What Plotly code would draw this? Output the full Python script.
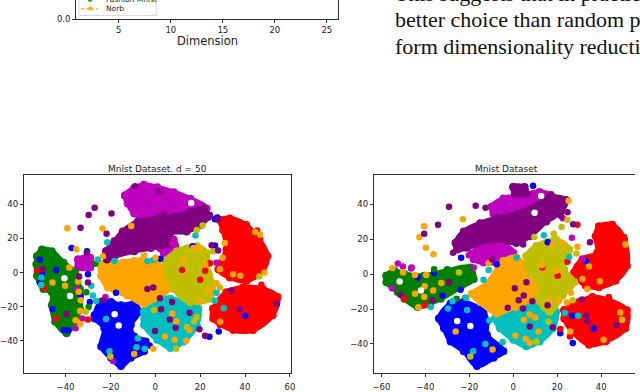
import plotly.graph_objects as go

BLUE, GREEN, RED, CYAN = "#0000ff", "#008000", "#ff0000", "#00bfbf"
MAGENTA, OLIVE, ORANGE, PURPLE = "#bf00bf", "#bfbf00", "#ffa500", "#800080"
WHITE = "#ffffff"

# ---------- top strip: foot of the preceding figure ----------
top_ticks = [5, 10, 15, 20, 25]
top_xlabel = "Dimension"
legend_names = ["Fashion Mnist", "Norb"]
body_lines = ["This suggests that in practice PCA is a",
              "better choice than random projections to per",
              "form dimensionality reduction for the"]

# ---------- left panel: cluster outlines ----------
L_title = "Mnist Dataset. d = 50"
L_ticks_x = [-40, -20, 0, 20, 40, 60]
L_ticks_y = [-40, -20, 0, 20, 40]
L_magenta = [(-13.5,45.2),(-9.4,49.6),(-5,51.5),(0.9,50),(8.2,47.1),(15.6,43.3),(22.9,37.5),(20,33.7),(8.2,30.8),(-3.5,30.8),(-9.4,34.6),(-12.3,40.4)]
L_magenta2 = [(2.3,14.4),(8.2,19.2),(9,15.4),(3.8,11.5)]
L_magenta3 = [(-34.4,7.7),(-29,8.7),(-29,3),(-34.4,3)]
L_purple = [(-21.9,12.5),(-18.2,18.3),(-14.5,24),(-7.9,29.8),(0.9,31.7),(8.2,32.7),(15.6,35.6),(21.5,37.5),(23.6,32.7),(19.9,27.9),(14,24),(6.7,23.1),(5.3,16.4),(-2,14.4),(-9.4,12.5),(-18.2,9.6),(-21.6,7.7)]
L_green = [(-52.7,9.6),(-50.5,13.5),(-46.1,12.5),(-40.9,5.8),(-35.8,0),(-33.6,-9.6),(-33.6,-21.2),(-36.6,-30.8),(-39.5,-35.6),(-44.6,-28.8),(-46.1,-19.2),(-46.1,-11.5),(-49.8,-9.6),(-52.7,-1.9),(-53,4.8)]
L_orange = [(-24.1,4.8),(-18.2,5.8),(-9.4,6.7),(0.9,4.8),(5.3,0),(6.8,-8.7),(2.3,-13.5),(-5,-18.3),(-12.3,-13.5),(-21.1,-8.7),(-24.1,-1.9)]
L_olive = [(4.6,6.7),(9.7,12.5),(18.5,15.4),(22.9,11.5),(23.6,0),(25.8,-6.7),(24.4,-15.4),(15.6,-17.3),(8.2,-9.6),(5.3,0)]
L_cyan = [(-5,-23),(-0.6,-14.4),(6.8,-15.4),(14,-17.3),(19.2,-21.2),(18.5,-30.8),(12.6,-40.4),(6.8,-44.2),(0.9,-39.4),(-5,-30.8)]
L_blue = [(-27,-25),(-24.1,-17.3),(-19.7,-17.3),(-15.3,-19.2),(-9.4,-18.3),(-7.2,-23),(-10.9,-30.8),(-9.4,-37.5),(-4.3,-40.4),(-5,-46.2),(-10.9,-50),(-15.3,-54.8),(-19.7,-50),(-24.1,-43.3),(-22.7,-32.7),(-27,-26.9)]
L_red1 = [(28.8,30.8),(33.2,31.7),(40.5,27.9),(46.4,19.2),(50,9.6),(47.8,1),(40.5,-4.8),(33.2,-2.9),(28.1,1.9),(31.7,13.5),(30.2,25)]
L_red2 = [(25.8,-21.2),(31.7,-11.5),(39.1,-8.7),(47.9,-9.6),(54.5,-14.4),(52.3,-25),(43.5,-33.7),(34.7,-33.7),(25.8,-26.9)]

# ---------- left panel: stray points ----------
L_pts_blue = [(-51.5,7.7),(-50.5,-1),(-51.5,-5.8),(-44.2,1.5),(-45.8,-21.5),(-40.8,-33.7),(-38.8,-34),(-33.2,-13.8),(-29.2,-17.3),(-17.5,-11.9),(-2.5,-42.7),(40.1,-25.4),(28.3,-34.6),(24.1,-37.7),(26.6,15.8),(16.7,15.4),(26.6,31.3),(27.6,32.3),(2.3,8.1),(-30,-1),(-37.3,14.4),(-30.4,12.5)]
L_pts_red = [(-52.6,1.2),(-49.3,-9.2),(-44.3,-27.1),(-30,-27.5),(11.9,1.5),(20,-4.2),(24.4,5.4),(47.3,-7.1),(28.8,-30.8),(22.2,1),(45.4,24.6)]
L_pts_orange = [(-39.2,26),(-23.5,25.8),(-35.2,13.7),(-10.7,27.3),(-38.3,2.9),(-45.8,-5.8),(-40.2,-7.7),(-34.4,-5.2),(-34.1,-11.2),(-33.2,-16.3),(-33.5,-22.5),(-35.5,-27.9),(-33.5,-30.2),(-4.3,-18.3),(7.6,-24),(9.4,-28.7),(15.3,-33.7),(4.3,-37.5),(8.7,-39.4),(13.8,-40),(-9.4,-47.7),(-0.9,-44.6),(28.9,-28.8),(28.8,1.9),(34.7,-1),(37.9,-1.9),(48.6,0),(44.5,23.7),(46.7,22.1),(31,17.3),(30,8.7),(27.3,-6.3),(23.6,-10.6),(20,-16.7),(17,14.4),(20,14.4),(12.6,6.7),(22.2,4.8),(-6.5,7.3),(-5,10),(0.1,8.7),(-23.3,9.6)]
L_pts_cyan = [(-25.6,7.7),(-18.2,6.7),(-50.8,-2.9),(-50.8,-7.3),(-28.5,-7.7),(-27.8,-13.5),(-26.3,-16.7),(-22,-27.3),(-7.8,-38.5),(-8.4,-43.8),(-4.7,-44.6),(-20.4,-46.2),(26.6,-16.5),(30.5,-21),(27.3,-11.9),(17.9,21.7),(-3.5,6.7),(-0.9,7.3),(-21.4,17.7)]
L_pts_olive = [(18.5,25),(21.1,27.5),(17.3,-28.5),(18.5,-26),(14.1,-31.9),(9.3,-44.6),(-20,-49.2),(-31,-23),(-0.6,-22.1),(25.8,12.5),(24.4,-1.9),(46.4,-2.3),(28.8,-8.7)]
L_pts_magenta = [(-18.9,-51.9),(-35.1,-9.6),(7.5,16.9),(-32.5,-26.9),(-22.2,-14.4),(27.3,5.8),(-35.5,-32.7)]
L_pts_green = [(-26.7,5.2),(-30.7,-11.5),(-29.7,-20.2)]
L_pts_purple = [(-9,50.6),(1.6,47.7),(-27,37.9),(-29.7,33.7),(-19.5,34.6),(-33.3,26.3),(-21.7,22.7),(3.8,34.6),(-30.5,11.5),(-33.9,-2.3),(-30,-5.8),(-3.5,-9.6),(-0.9,-8.7),(2.1,-15),(2.6,-21.5),(6.5,-27.5),(7.5,-17.3),(9.1,-32.3),(-0.1,-34.2),(15.3,-23.5),(19.7,-33.3),(22.2,-37.1),(37.6,-21.5),(33.9,-10.6),(54.2,-18.3),(24.4,33.7),(28,31.3),(25.1,16),(28,12.9),(-39.5,-24.4),(-50.2,1.9),(-23.3,-16.3)]
L_pts_white = [(-40.5,-3.3),(-38,-13.8),(-18.1,-24.4),(-16.3,-31),(16,40.8)]

# ---------- right panel: cluster outlines ----------
R_title = "Mnist Dataset"
R_ticks_x = [-60, -40, -20, 0, 20, 40]
R_ticks_y = [-40, -20, 0, 20, 40]
R_magenta = [(-9.7,38.5),(-4.5,43.2),(4.5,45.1),(12,47),(18,44),(15,36.6),(4.5,31.9),(-4.5,32.9),(-9,34.7)]
R_magenta2 = [(-18.7,11.3),(-12,17.8),(-4.5,16.9),(0,12.2),(-3,7.5),(-13.5,6.6),(-18,8.5)]
R_purple = [(-26.2,17.8),(-22.5,24.4),(-15,29.1),(-7.5,31.9),(1.5,34.7),(10.5,39.4),(16.5,44),(24,42.3),(21.7,35.7),(15,30),(7.5,21.6),(1.5,17.8),(-9,19.7),(-21,15),(-25.5,14.1)]
R_purple2 = [(0,49.8),(5.2,49.8),(6,46),(0.7,46)]
R_green = [(-57.7,-0.9),(-54,1.9),(-49.5,0),(-40.5,-0.9),(-30,1.9),(-19.5,3.8),(-18,-2.8),(-24,-7.5),(-33,-14.1),(-43.5,-18.8),(-49.5,-14.1),(-52.5,-10.3),(-57.7,-4.7)]
R_orange = [(-18.7,-11.3),(-12,-5.6),(-4.5,7.5),(1.5,9.4),(7.5,-0.9),(12.7,-8.5),(13.5,-14.1),(4.5,-16),(-7.5,-22.5),(-15,-16)]
R_olive = [(6,10.3),(10.5,16),(19.5,19.7),(25.5,14.1),(23.2,2.8),(27.7,-4.7),(22.5,-12.2),(16.5,-21.6),(11.2,-14.1),(13.5,-8.5),(7.5,0.9)]
R_cyan = [(-8.2,-25.4),(-3,-17.8),(3,-14.1),(13.5,-15),(19.5,-21.6),(18,-31),(12,-38.5),(6,-41.3),(0,-37.6),(-6,-31)]
R_blue = [(-33.7,-25.4),(-28.5,-16.9),(-22.5,-16),(-13.5,-21.6),(-12,-27.2),(-12,-34.7),(-4.5,-44.1),(-9,-47.9),(-16.5,-52.6),(-22.5,-44.1),(-28.5,-38.5),(-31.5,-31)]
R_red1 = [(39,27.2),(45,28.2),(50.2,20.7),(51.7,4.7),(46.5,-3.8),(39,-7.5),(33,-6.6),(27.7,0.9),(31.5,8.5),(38.2,12.2),(37.5,21.6)]
R_red2 = [(23.2,-20.7),(30,-16),(36,-13.1),(43.5,-15),(51.7,-20.7),(51,-31),(42,-38.5),(34.5,-40.4),(27,-32.9),(23.2,-25.4)]

# ---------- right panel: stray points ----------
R_pts_blue = [(9,50.5),(27.1,-39.4),(21.4,-33.8),(26.7,-23.8),(36.6,-31.2),(-13,-40),(-23.7,9.4),(-32.2,-12.2),(-24,-9),(15.7,18.2),(33,7.5),(-7.5,5.6),(-36,0.6),(-43.5,-1.9)]
R_pts_red = [(-49.5,-14.1),(-40.2,-17.8),(13.2,3.8),(20.2,-0.9),(24.7,7.1),(21.4,-31.4),(25.8,-35.7),(29.2,28.2),(43.5,-13.1),(50.7,19.7)]
R_pts_orange = [(-55,3.4),(-50.1,0.9),(-44.7,-0.6),(-39.6,-0.6),(-32.7,-5.1),(-44.7,-11.3),(-40.3,-6.9),(-36.4,-9.4),(-40.5,-13.1),(-43.2,-19),(-22.9,31.4),(-40.5,27.4),(-42.7,21),(-39.7,15),(-36.3,11.3),(25.2,41.9),(-11.2,6.2),(-26.2,-32.9),(-9.4,-43.2),(1,-19.3),(4.8,-26.1),(10,-24.8),(11.5,-32.9),(1,-35.1),(5.7,-37),(7.5,-39.4),(7.5,-23.1),(16.5,-15),(20.7,-15.4),(24.4,-16.3),(25.9,-32.9),(41.1,-37.6),(48.7,-22),(39.4,-4.1),(34.5,4.3),(29.2,15.6),(51,16.9),(26.2,-10.7),(31.5,-2.8),(33.7,-8.5),(18,16.9),(22.5,17.5),(13,5.1),(19.5,1.9),(3.7,6.6)]
R_pts_cyan = [(-21,-20.5),(-37.5,-18.8),(-27.7,-15.6),(-29.7,-19.7),(-21.4,-13.5),(-10.9,-26.5),(-4.8,-38.9),(-18.3,-44.1),(23.5,-22.2),(29.5,-23.8),(13.9,22.2),(1.5,9.4),(-11.2,2.3),(-13.5,-3.2),(25.5,9.8),(-12.7,-40)]
R_pts_olive = [(22,26.9),(18.4,23.1),(9.6,21.2),(16,-27.2),(49.5,-26.1),(-19.5,-47.1),(10.5,-38.5),(28.8,11.8),(27,-15),(-24.7,0.9),(24.7,31)]
R_pts_magenta = [(-52.5,6),(-46.2,3.8),(-55.2,-8.1),(-20.2,10.7),(-18,3.8),(26.7,20.7),(22.5,31.9),(31.5,8.5),(-50.2,4.3),(-46.5,3.2)]
R_pts_green = [(-36,2.8),(-25.8,-14.1),(-30,2.8),(-21.7,-13.5)]
R_pts_purple = [(-29.2,38.5),(-17.1,39.1),(-12.6,37.9),(-40.5,23.1),(-34.2,28.2),(-27.4,12.2),(-51.4,-11.8),(-29.2,-4.7),(-36.7,-15),(0.7,-8.1),(4.8,-12.2),(6,-4.7),(-2.5,-19.3),(2.5,-15),(4.5,-19.7),(8.7,-15.6),(7.5,-30),(18,-30.4),(15.6,-17.8),(31.3,-14.5),(33.3,-23.8),(33.7,-27.2),(46.9,-29.1),(34.9,18.2),(21.7,33.2),(24.7,35.3),(27.3,28.5),(-9.7,8.5),(4.5,16.9),(17.2,45.6)]
R_pts_white = [(-51.7,-4.3),(-42,-9.4),(-25.5,-26.9),(-19.5,-29.7),(12.7,44.7),(9.7,35.1)]

W, H = 640, 392
fig = go.Figure()


def blob(points, color, xa, ya):
    xs = [p[0] for p in points] + [points[0][0]]
    ys = [p[1] for p in points] + [points[0][1]]
    fig.add_trace(go.Scatter(x=xs, y=ys, xaxis=xa, yaxis=ya, mode="lines+markers", fill="toself",
                             fillcolor=color, line=dict(color=color, width=5, shape="spline", smoothing=1),
                             marker=dict(color=color, size=8), hoverinfo="skip", showlegend=False))


def strays(points, color, xa, ya):
    fig.add_trace(go.Scatter(x=[p[0] for p in points], y=[p[1] for p in points], xaxis=xa, yaxis=ya,
                             mode="markers", marker=dict(color=color, size=6.5), showlegend=False))


for pts, col in [(L_magenta, MAGENTA), (L_magenta2, MAGENTA), (L_magenta3, MAGENTA), (L_green, GREEN),
                 (L_blue, BLUE), (L_red1, RED), (L_red2, RED), (L_cyan, CYAN), (L_orange, ORANGE),
                 (L_olive, OLIVE), (L_purple, PURPLE)]:
    blob(pts, col, "x", "y")
for pts, col in [(L_pts_blue, BLUE), (L_pts_green, GREEN), (L_pts_red, RED), (L_pts_cyan, CYAN),
                 (L_pts_magenta, MAGENTA), (L_pts_olive, OLIVE), (L_pts_orange, ORANGE),
                 (L_pts_purple, PURPLE), (L_pts_white, WHITE)]:
    strays(pts, col, "x", "y")

for pts, col in [(R_magenta, MAGENTA), (R_magenta2, MAGENTA), (R_green, GREEN), (R_blue, BLUE),
                 (R_red1, RED), (R_red2, RED), (R_cyan, CYAN), (R_orange, ORANGE), (R_olive, OLIVE),
                 (R_purple, PURPLE), (R_purple2, PURPLE)]:
    blob(pts, col, "x2", "y2")
for pts, col in [(R_pts_blue, BLUE), (R_pts_green, GREEN), (R_pts_red, RED), (R_pts_cyan, CYAN),
                 (R_pts_magenta, MAGENTA), (R_pts_olive, OLIVE), (R_pts_orange, ORANGE),
                 (R_pts_purple, PURPLE), (R_pts_white, WHITE)]:
    strays(pts, col, "x2", "y2")

# one empty trace keeps the top axes alive
fig.add_trace(go.Scatter(x=top_ticks, y=[None] * len(top_ticks), xaxis="x3", yaxis="y3", showlegend=False))

FONT = "DejaVu Sans"
SP = "#2e2e2e"
TICK = dict(ticks="outside", ticklen=3, tickwidth=1, tickcolor=SP, showgrid=False, zeroline=False,
            showline=True, linecolor=SP, linewidth=1, tickfont=dict(family=FONT, size=8.5, color="#222"))


def px(a, b):
    return [a / W, b / W]


def py(top, bottom):
    return [1 - bottom / H, 1 - top / H]


fig.update_layout(
    width=W, height=H, margin=dict(l=0, r=0, t=0, b=0), paper_bgcolor="white", plot_bgcolor="white",
    showlegend=False,
    xaxis=dict(domain=px(22, 292), range=[-58.6, 60.4], tickvals=L_ticks_x, mirror=True, anchor="y",
               ticklabelstandoff=3, **TICK),
    yaxis=dict(domain=py(178, 379), range=[-59, 57], tickvals=L_ticks_y, mirror=True, anchor="x", **TICK),
    xaxis2=dict(domain=px(376, 640), range=[-63.4, 55.4], tickvals=R_ticks_x, mirror=True, anchor="y2",
                ticklabelstandoff=3, **TICK),
    yaxis2=dict(domain=py(178, 379), range=[-56.7, 56.5], tickvals=R_ticks_y, anchor="x2", **TICK),
    xaxis3=dict(domain=px(75, 340), range=[0.9, 26.1], tickvals=top_ticks, anchor="y3", **TICK),
    yaxis3=dict(domain=py(0, 19.5), range=[0, 1], tickvals=[0], tickformat=".1f", mirror=True, anchor="x3", **TICK),
)


def label(x, y, text, size, family=FONT, xanchor="center", yanchor="middle", color="#222"):
    fig.add_annotation(x=x / W, y=1 - y / H, xref="paper", yref="paper", text=text, showarrow=False,
                       xanchor=xanchor, yanchor=yanchor, font=dict(family=family, size=size, color=color))


label(157, 172, L_title, 9)
label(510, 172, R_title, 9)
label(207.5, 41.5, top_xlabel, 11.5)

# legend box of the preceding figure
fig.add_shape(type="rect", xref="paper", yref="paper", x0=78 / W, x1=156 / W, y0=1 - 15.7 / H, y1=1 + 6 / H,
              line=dict(color="#d8d8d8", width=1), fillcolor="white")
fig.add_shape(type="line", xref="paper", yref="paper", x0=80 / W, x1=97 / W, y0=1 - 9 / H, y1=1 - 9 / H,
              line=dict(color=ORANGE, width=1.2, dash="3px,2px"))
label(89, 8.5, "★", 8, xanchor="center", color=ORANGE)
fig.add_shape(type="circle", xref="paper", yref="paper", x0=86.5 / W, x1=91.5 / W, y0=1 - 2 / H, y1=1 + 3 / H,
              line=dict(width=0), fillcolor="#3aa83a")
label(103, -1, legend_names[0], 7.5, xanchor="left")
label(103, 9, legend_names[1], 7.5, xanchor="left")

# running text of the page
for line, base in zip(body_lines, [3, 30, 57]):
    label(395, base + 5, line, 22, family="Liberation Serif", xanchor="left", yanchor="bottom", color="#111")

fig.write_html("out.html", config={"displayModeBar": False},
               post_script="document.body.style.margin='0';document.body.style.overflow='hidden';")
